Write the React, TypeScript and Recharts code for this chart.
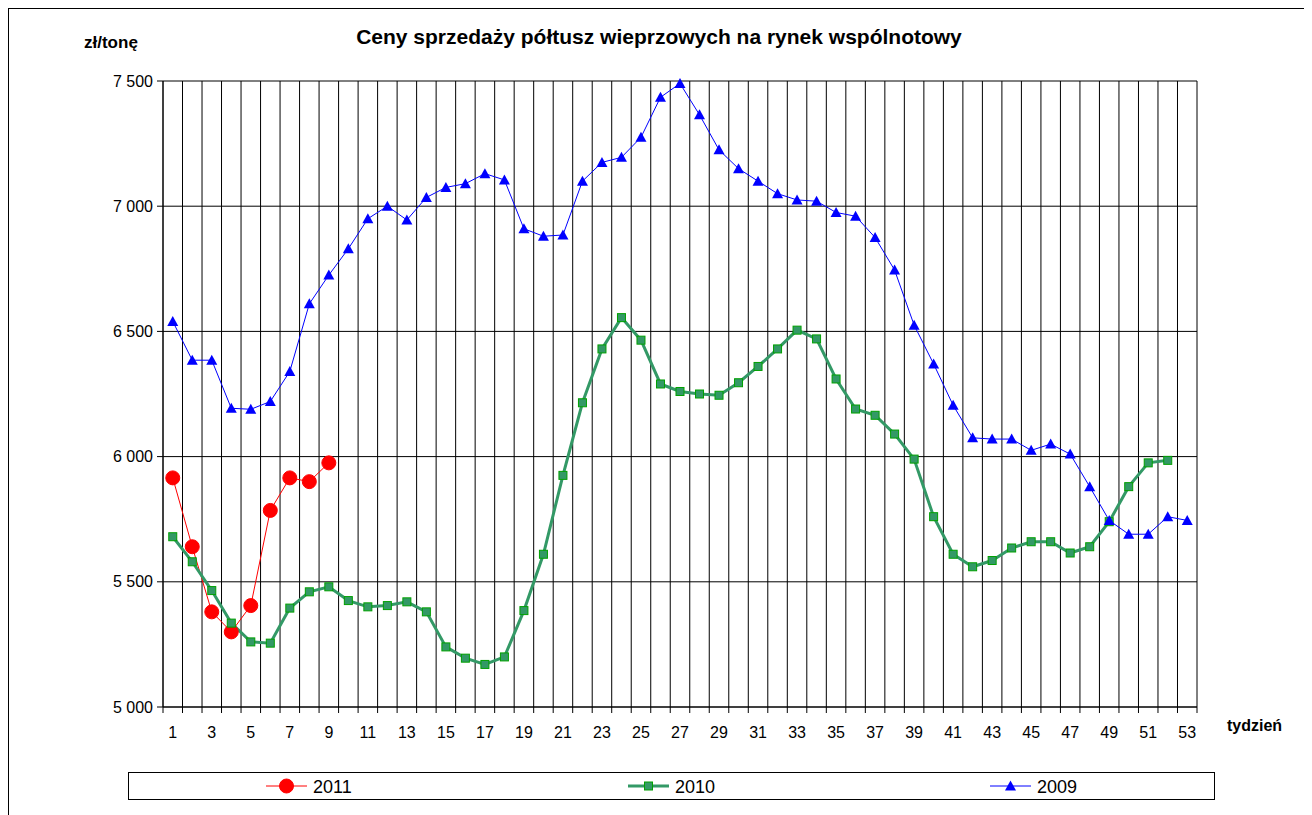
import { LineChart, Line, XAxis, YAxis, CartesianGrid } from "recharts";

// weekly prices, zł/tonę
const weeks = [
  1, 2, 3, 4, 5, 6, 7, 8, 9, 10, 11, 12, 13, 14, 15, 16, 17, 18, 19, 20, 21, 22, 23, 24, 25, 26,
  27, 28, 29, 30, 31, 32, 33, 34, 35, 36, 37, 38, 39, 40, 41, 42, 43, 44, 45, 46, 47, 48, 49, 50,
  51, 52, 53,
];

const prices2011 = [5915, 5640, 5380, 5300, 5405, 5785, 5915, 5900, 5975];

const prices2010 = [
  5680, 5580, 5465, 5335, 5260, 5255, 5395, 5460, 5480, 5425, 5400, 5405, 5420, 5380, 5240, 5195,
  5170, 5200, 5385, 5610, 5925, 6215, 6430, 6555, 6465, 6290, 6260, 6250, 6245, 6295, 6360, 6430,
  6505, 6470, 6310, 6190, 6165, 6090, 5990, 5760, 5610, 5560, 5585, 5635, 5660, 5660, 5615, 5640,
  5740, 5880, 5975, 5985,
];

const prices2009 = [
  6540, 6385, 6385, 6193, 6189, 6220, 6340, 6610, 6725, 6830, 6950, 7000, 6945, 7035, 7075, 7090,
  7130, 7105, 6910, 6880, 6885, 7100, 7175, 7195, 7275, 7435, 7490, 7365, 7225, 7150, 7100, 7050,
  7025, 7020, 6975, 6960, 6875, 6745, 6525, 6370, 6205, 6075, 6070, 6070, 6025, 6050, 6010, 5880,
  5745, 5690, 5690, 5760, 5745,
];

const yTicks = [5000, 5500, 6000, 6500, 7000, 7500];

const data = weeks.map((week, i) => ({
  week,
  y2011: prices2011[i] ?? null,
  y2010: prices2010[i] ?? null,
  y2009: prices2009[i] ?? null,
}));

// grid lines sit between weeks, labels on odd weeks
const weekEdges = [weeks[0] - 0.5, ...weeks.map((w) => w + 0.5)];
const xTicks = [...weekEdges, ...weeks.filter((w) => w % 2 === 1)].sort((a, b) => a - b);

const fmt = (v: number) => `${Math.floor(v / 1000)} ${String(v % 1000).padStart(3, "0")}`;

function WeekTick({ x, y, payload }: any) {
  const v = payload.value;
  if (v % 1 !== 0) {
    return <line x1={x} y1={y} x2={x} y2={y + 6} stroke="#000" />;
  }
  return (
    <text x={x} y={y + 31} textAnchor="middle" fontSize={16} fill="#000">
      {v}
    </text>
  );
}

function Circle({ cx, cy, size = 7 }: any) {
  return <circle cx={cx} cy={cy} r={size} fill="#ff0000" stroke="#ff0000" />;
}

function Square({ cx, cy }: any) {
  return (
    <rect x={cx - 4} y={cy - 4} width={8} height={8} fill="#339966" stroke="#00a000" strokeWidth={1} />
  );
}

function Triangle({ cx, cy }: any) {
  return <path d={`M${cx},${cy - 5.5} L${cx + 5.5},${cy + 4.5} L${cx - 5.5},${cy + 4.5} Z`} fill="#0000ff" />;
}

const dotOf = (Shape: any) => (props: any) => {
  const { cx, cy, index } = props;
  if (cx == null || cy == null || props.value == null) return <g key={`e${index}`} />;
  return <Shape key={`d${index}`} cx={cx} cy={cy} />;
};

const series = [
  { key: "y2011", name: "2011", color: "#ff0000", width: 1, Shape: Circle },
  { key: "y2010", name: "2010", color: "#339966", width: 3, Shape: Square },
  { key: "y2009", name: "2009", color: "#0000ff", width: 1, Shape: Triangle },
];

const gridX = ({ xAxis, offset }: any) => {
  if (xAxis && typeof xAxis.scale === "function") return weekEdges.map((w) => xAxis.scale(w));
  return weekEdges.map((w) => offset.left + ((w - weekEdges[0]) / weeks.length) * offset.width);
};

const W = 1295;
const H = 800;

export default function App() {
  const slot = 1086 / series.length;
  return (
    <div
      style={{
        position: "relative",
        width: 1296,
        height: 820,
        border: "1px solid #000",
        fontFamily: "'Liberation Sans', Arial, sans-serif",
        background: "#fff",
      }}
    >
      <LineChart width={W} height={H} data={data} margin={{ top: 72, right: 107, bottom: 62, left: 94 }}>
        <CartesianGrid stroke="#000" strokeWidth={1} verticalCoordinatesGenerator={gridX} />
        <XAxis
          dataKey="week"
          type="number"
          domain={[weekEdges[0], weekEdges[weekEdges.length - 1]]}
          ticks={xTicks}
          interval={0}
          tickSize={0}
          tickMargin={0}
          tickLine={false}
          tick={WeekTick}
          height={40}
          axisLine={{ stroke: "#000" }}
        />
        <YAxis
          domain={[5000, 7500]}
          ticks={yTicks}
          tickFormatter={fmt}
          width={60}
          tickSize={6}
          tickMargin={4}
          tick={{ fill: "#000", fontSize: 16 }}
          axisLine={{ stroke: "#000" }}
          tickLine={{ stroke: "#000" }}
        />
        {series.map((s) => (
          <Line
            key={s.key}
            dataKey={s.key}
            name={s.name}
            type="linear"
            stroke={s.color}
            strokeWidth={s.width}
            dot={dotOf(s.Shape)}
            activeDot={false}
            isAnimationActive={false}
          />
        ))}
      </LineChart>
      <svg
        width={W}
        height={H + 10}
        style={{ position: "absolute", left: 0, top: 0, pointerEvents: "none" }}
      >
        <text x={650} y={35} textAnchor="middle" fontSize={21} fontWeight="bold" fill="#000">
          Ceny sprzedaży półtusz wieprzowych na rynek wspólnotowy
        </text>
        <text x={75} y={39} fontSize={17} fontWeight="bold" fill="#000">
          zł/tonę
        </text>
        <text x={1218} y={722} fontSize={16} fontWeight="bold" fill="#000">
          tydzień
        </text>
        <rect x={119.5} y={763.5} width={1086} height={27} fill="#fff" stroke="#000" />
        {series.map((s, i) => {
          const cx = 119 + slot * i + slot / 2;
          const start = cx - 43;
          return (
            <g key={s.key}>
              <line x1={start} y1={777} x2={start + 41} y2={777} stroke={s.color} strokeWidth={s.width} />
              <s.Shape cx={start + 20.5} cy={777} />
              <text x={start + 47} y={784} fontSize={18} fill="#000">
                {s.name}
              </text>
            </g>
          );
        })}
      </svg>
    </div>
  );
}
